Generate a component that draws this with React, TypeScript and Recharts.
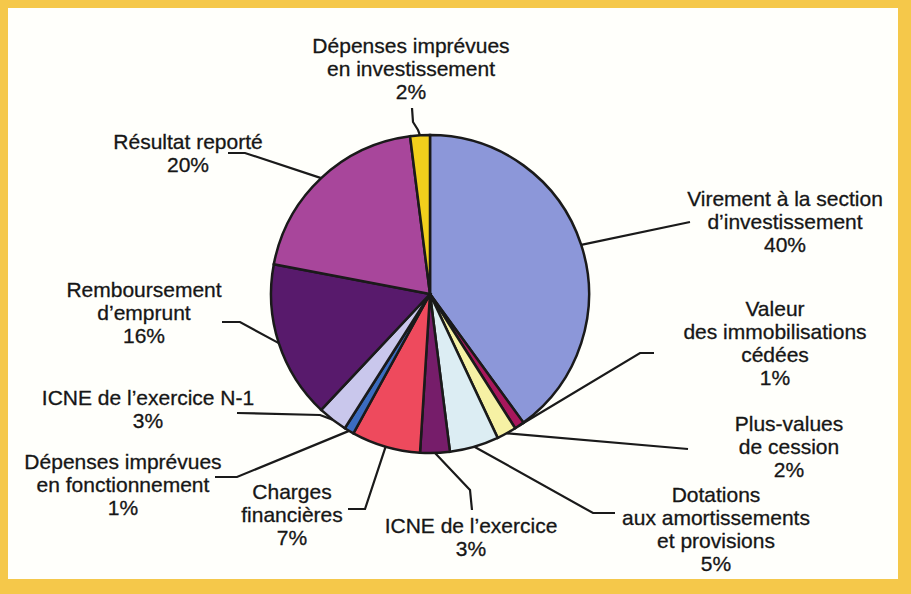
import { PieChart, Pie } from 'recharts';

const RADIAN = Math.PI / 180;

// postes de la section, dans l'ordre des aiguilles d'une montre depuis midi
const categories = [
  'Virement à la section\nd’investissement',
  'Valeur\ndes immobilisations\ncédées',
  'Plus-values\nde cession',
  'Dotations\naux amortissements\net provisions',
  'ICNE de l’exercice',
  'Charges\nfinancières',
  'Dépenses imprévues\nen fonctionnement',
  'ICNE de l’exercice N-1',
  'Remboursement\nd’emprunt',
  'Résultat reporté',
  'Dépenses imprévues\nen investissement',
];
const shares = [40, 1, 2, 5, 3, 7, 1, 3, 16, 20, 2];
const colors = [
  '#8c97d9', '#a8175c', '#f6f1a4', '#dcedf3', '#761d6a', '#ee4a5d',
  '#3b6cc0', '#c9c7ec', '#581a6c', '#a8469b', '#f1cf1c',
];

// mise en page des étiquettes : centre du texte, 1re ligne de base, coude du trait
const labelLayout = [
  { x: 785, y: 206, pts: [[690, 222]] },
  { x: 775, y: 316, pts: [[640, 353], [654, 353]] },
  { x: 789, y: 431, pts: [[688, 449]] },
  { x: 716, y: 502, pts: [[593, 513], [615, 513]] },
  { x: 471, y: 533, pts: [[470, 490], [472, 510]] },
  { x: 292, y: 499, pts: [[365, 509], [348, 509]] },
  { x: 123, y: 469, pts: [[237, 477], [215, 477]] },
  { x: 148, y: 405, pts: [[320, 415], [237, 413]] },
  { x: 144, y: 297, pts: [[240, 322], [222, 322]] },
  { x: 188, y: 149, pts: [[245, 153], [228, 153]] },
  { x: 411, y: 53, pts: [[418, 130], [413, 122], [412, 108]] },
];

const data = categories.map((name, i) => ({ name, value: shares[i], fill: colors[i] }));

const renderLabel = (props: any) => {
  const { cx, cy, midAngle, outerRadius, index, value } = props;
  const lay = labelLayout[index];
  const sx = cx + outerRadius * Math.cos(-midAngle * RADIAN);
  const sy = cy + outerRadius * Math.sin(-midAngle * RADIAN);
  const pts = [[sx, sy], ...lay.pts].map(p => p.join(',')).join(' ');
  const lines = [...categories[index].split('\n'), `${value}%`];
  return (
    <g key={`lbl-${index}`}>
      <polyline points={pts} fill="none" stroke="#1a1a1a" strokeWidth={2.2} />
      <text
        x={lay.x}
        y={lay.y}
        textAnchor="middle"
        fill="#161616"
        stroke="#161616"
        strokeWidth={0.3}
        fontSize={21}
        fontFamily="'Liberation Sans', Arial, sans-serif"
      >
        {lines.map((l, k) => (
          <tspan key={k} x={lay.x} dy={k === 0 ? 0 : 23}>{l}</tspan>
        ))}
      </text>
    </g>
  );
};

export default function App() {
  return (
    <div style={{ position: 'relative', width: 911, height: 594, background: '#f5c84a' }}>
      <style>{'body{margin:0}'}</style>
      <div style={{ position: 'absolute', left: 8, top: 8, width: 890, height: 571, background: '#fffffb' }} />
      <div style={{ position: 'absolute', left: 0, top: 0 }}>
        <PieChart width={911} height={594} margin={{ top: 0, right: 0, bottom: 0, left: 0 }}>
          <Pie
            data={data}
            dataKey="value"
            nameKey="name"
            cx={430}
            cy={294}
            outerRadius={159}
            startAngle={90}
            endAngle={-270}
            stroke="#1a1a1a"
            strokeWidth={2.5}
            label={renderLabel}
            labelLine={false}
            isAnimationActive={false}
          />
        </PieChart>
      </div>
    </div>
  );
}
